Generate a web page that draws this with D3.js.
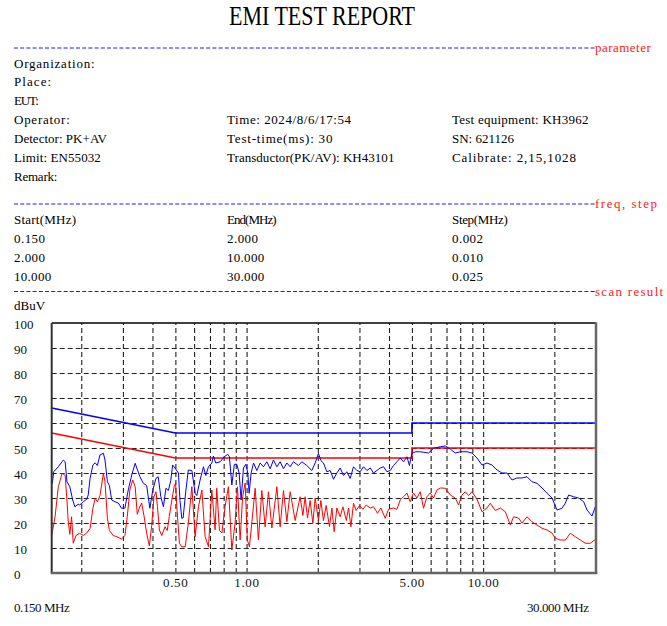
<!DOCTYPE html>
<html>
<head>
<meta charset="utf-8">
<script src="https://cdn.jsdelivr.net/npm/d3@7"></script>
<style>
  body { margin: 0; background: #fff; }
  svg { display: block; }
</style>
</head>
<body>
<script>
const title = "EMI TEST REPORT";

const paramRows = [
  ["Organization:", "", ""],
  ["Place:", "", ""],
  ["EUT:", "", ""],
  ["Operator:", "Time: 2024/8/6/17:54", "Test equipment: KH3962"],
  ["Detector: PK+AV", "Test-time(ms): 30", "SN: 621126"],
  ["Limit: EN55032", "Transductor(PK/AV): KH43101", "Calibrate: 2,15,1028"],
  ["Remark:", "", ""]
];

const freqHeader = ["Start(MHz)", "End(MHz)", "Step(MHz)"];
const freqStart = ["0.150", "2.000", "10.000"];
const freqEnd = ["2.000", "10.000", "30.000"];
const freqStep = ["0.002", "0.010", "0.025"];

const sectionLabels = ["parameter", "freq, step", "scan result"];

// limites EN55032 (QP bleu / AV rouge)
const limitFreq = [0.15, 0.5, 5, 5, 30];
const limitPK = [66, 56, 56, 60, 60];
const limitAV = [56, 46, 46, 50, 50];

const yTicks = [0, 10, 20, 30, 40, 50, 60, 70, 80, 90, 100];
const xGrid = [0.2, 0.3, 0.4, 0.5, 0.6, 0.7, 0.8, 0.9, 1, 2, 3, 4, 5, 6, 7, 8, 9, 10, 20];
const xLabels = [0.5, 1, 5, 10];
const xLabelText = ["0.50", "1.00", "5.00", "10.00"];

// trace crête (PK)
const peakFreq = [
  0.150,0.151,0.153,0.160,0.168,0.171,0.174,0.179,0.184,0.188,
  0.194,0.197,0.204,0.211,0.214,0.218,0.224,0.229,0.234,0.240,
  0.248,0.252,0.258,0.263,0.269,0.278,0.287,0.296,0.306,0.316,
  0.327,0.338,0.345,0.354,0.366,0.378,0.390,0.401,0.414,0.423,
  0.434,0.445,0.456,0.467,0.478,0.487,0.498,0.515,0.523,0.532,
  0.539,0.553,0.567,0.587,0.606,0.616,0.636,0.657,0.672,0.690,
  0.713,0.724,0.741,0.773,0.806,0.833,0.846,0.866,0.888,0.909,
  0.930,0.948,0.970,0.992,1.012,1.025,1.045,1.070,1.105,1.141,
  1.178,1.218,1.258,1.299,1.343,1.386,1.432,1.480,1.528,1.578,
  1.656,1.712,1.797,1.887,1.949,2.013,2.060,2.113,2.185,2.256,
  2.330,2.408,2.487,2.569,2.655,2.742,2.831,2.926,3.022,3.121,
  3.226,3.332,3.440,3.556,3.672,3.792,3.919,4.047,4.179,4.320,
  4.461,4.608,4.763,4.880,5.000,5.190,5.421,5.880,6.171,6.586,
  6.917,7.262,7.623,8.004,8.544,8.970,9.419,9.889,10.38,10.90,
  11.45,12.02,12.61,13.25,13.90,14.60,15.33,16.09,16.89,17.74,
  18.63,19.55,20.53,21.55,22.26,22.98,24.13,25.34,26.61,27.49,
  28.86,29.80,30.00
];
const peakLevel = [
  35.5,36,40.5,42.5,45.2,44.5,36.5,34.5,29.2,26.5,
  27.5,27.2,28.5,29.5,31.2,37.9,43.2,44.1,43,47.2,
  47.9,45.2,36.5,35,29.2,28.5,28,25.9,26,33.2,
  39.2,43.9,41.5,38.5,35.9,35,25.9,33,37.9,38.5,
  30.5,26.5,33.9,33,37,43.2,42,40,29,21.9,
  22,32.5,41.2,41,31.9,31,37.2,42.5,39,42.5,
  44,46.8,44,44.5,46.5,47.5,46.5,35.2,43.5,43.5,
  40,29.2,42,43.5,40,31.9,40,44,41,44,
  42.5,44.5,41.7,45.2,42.5,44.5,41.7,44,42.5,44.5,
  43,44.5,43,41,44,47.9,45,44,40.5,41,
  37.5,40,42,39,40.5,37.8,42.5,41,40.5,42.5,
  41,42,40,41,42,42.5,40.5,41,43,44.5,
  46,44.5,46.5,43,47.9,48.5,48.5,48,49.9,50.5,
  50.8,49.6,48,48.5,48.5,48,46,43.2,44,43.2,
  41.2,40,40,37.2,38,38,38.5,36.5,35.9,34,
  31.9,30,25.2,25.9,28,31.2,30.5,30,28.5,25.2,
  22.8,26.5,27
];

// trace moyenne (AV)
const avgFreq = [
  0.150,0.151,0.155,0.160,0.166,0.171,0.174,0.176,0.179,0.182,
  0.185,0.190,0.197,0.204,0.211,0.218,0.224,0.229,0.234,0.240,
  0.248,0.252,0.258,0.263,0.273,0.283,0.296,0.306,0.313,0.321,
  0.330,0.338,0.345,0.352,0.360,0.369,0.378,0.388,0.397,0.406,
  0.414,0.420,0.428,0.438,0.452,0.462,0.471,0.483,0.494,0.501,
  0.507,0.520,0.532,0.550,0.567,0.587,0.606,0.626,0.647,0.668,
  0.690,0.713,0.736,0.748,0.768,0.786,0.811,0.838,0.866,0.894,
  0.915,0.939,0.962,0.986,1.007,1.028,1.052,1.087,1.122,1.160,
  1.198,1.237,1.279,1.343,1.386,1.432,1.480,1.528,1.605,1.684,
  1.730,1.768,1.809,1.856,1.906,1.949,2.013,2.060,2.113,2.170,
  2.241,2.294,2.346,2.408,2.487,2.554,2.640,2.697,2.761,2.831,
  2.906,3.002,3.103,3.204,3.332,3.440,3.577,3.696,3.855,3.981,
  4.179,4.320,4.461,4.608,4.763,4.918,5.079,5.249,5.421,5.598,
  5.787,5.976,6.171,6.378,6.586,6.917,7.262,7.623,7.872,8.139,
  8.403,8.680,8.970,9.419,9.889,10.38,10.72,11.26,11.82,12.41,
  13.03,13.45,14.12,14.60,15.33,16.09,16.89,17.74,18.63,19.55,
  20.19,21.20,22.26,23.36,24.54,25.76,27.05,28.39,29.80,30.00
];
const avgLevel = [
  15,16.5,22.5,34.5,39.9,39,29.2,21.2,15.5,22.5,
  11.9,15,15.9,15,16,17.9,25.9,29.9,28.5,31,
  39.9,36.5,21.9,17,15,14.5,13.6,15,22.5,33.2,
  37.2,34.5,23.5,26,28,22.5,15.9,10.8,19,30.5,
  32.5,26.5,17.2,15,18.5,17,22.5,29.2,34.5,36,
  26.5,11.9,10.5,10.5,19.9,34.5,14.5,26.5,33.2,14.5,
  10.5,33.2,17.3,33.9,17,16,26.5,34.5,9.2,20,
  34.5,13.2,30.5,36,13.2,10.5,20,33.9,13.2,33,
  18.5,32.5,18,34.5,18.5,33,20.5,32.5,21,30.5,
  23,30.5,22,29,19.9,30,21,29,21,27,
  18.5,26,16.5,26,22.5,26.5,21,26,18.5,27.9,
  25,27,25.5,27.2,26,26.5,23.9,26,21.9,25.5,
  26,25.5,29.2,30.5,32,28.5,32,30,32.5,25.9,
  30.5,32,30,33.2,34,33.9,31.2,30,27.2,31.2,
  32.5,31,32.5,29.5,24.5,26,27.9,25,26,24.5,
  19.2,22.5,22,20,22.5,20.5,19.2,17.9,17.2,16,
  13.9,13.2,13.2,15.9,14.5,13.2,11.9,11.9,13.4,13
];

// ---- mise en page ----
const W = 667, H = 626;
const charW = 6.2;           // largeur d'un caractère "demi-chasse"
const col = [14, 227, 452];
const rowY = [63, 81.8, 100.6, 119.2, 138.2, 157.2, 176.2];
const freqRowY = [219, 238, 257, 276];
const sepY = [48, 204, 291.5];

const svg = d3.select("body").append("svg")
  .attr("width", W)
  .attr("height", H)
  .style("font-family", "'Liberation Serif', 'DejaVu Serif', serif");

function monoText(x, yy, str, color, anchor) {
  if (!str) return;
  svg.append("text")
    .attr("x", x)
    .attr("y", yy)
    .attr("dominant-baseline", "central")
    .attr("font-size", 13)
    .attr("text-anchor", anchor || "start")
    .attr("textLength", str.length * charW)
    .attr("lengthAdjust", "spacing")
    .attr("fill", color || "#000")
    .text(str);
}

// titre
svg.append("text")
  .attr("x", 322)
  .attr("y", 15)
  .attr("dominant-baseline", "central")
  .attr("text-anchor", "middle")
  .attr("font-size", 28)
  .attr("textLength", 186)
  .attr("lengthAdjust", "spacingAndGlyphs")
  .text(title);

// séparateurs pointillés + étiquettes rouges
sepY.forEach((sy, i) => {
  svg.append("line")
    .attr("x1", 14).attr("x2", 595)
    .attr("y1", sy).attr("y2", sy)
    .attr("stroke", "#1a1aff")
    .attr("stroke-width", 1)
    .attr("stroke-dasharray", "4,2.2");
  monoText(595, sy - 0.5, sectionLabels[i], "#ff2020");
});

// bloc paramètres
paramRows.forEach((r, i) => {
  r.forEach((s, j) => monoText(col[j], rowY[i], s));
});

// bloc fréquences
freqHeader.forEach((s, j) => monoText(col[j], freqRowY[0], s));
freqStart.forEach((s, i) => monoText(col[0], freqRowY[i + 1], s));
freqEnd.forEach((s, i) => monoText(col[1], freqRowY[i + 1], s));
freqStep.forEach((s, i) => monoText(col[2], freqRowY[i + 1], s));

// ---- graphique ----
const plot = { left: 51.7, right: 596, top: 323, bottom: 573 };
const x = d3.scaleLog().domain([0.15, 30]).range([plot.left, plot.right]);
const y = d3.scaleLinear().domain([0, 100]).range([plot.bottom, plot.top]);

svg.append("text")
  .attr("x", 14).attr("y", 305)
  .attr("dominant-baseline", "central")
  .attr("font-size", 13)
  .text("dBuV");

// grille horizontale
const gridY = svg.append("g")
  .attr("transform", `translate(${plot.left},0)`)
  .call(d3.axisLeft(y)
    .tickValues(yTicks.filter(v => v > 0 && v < 100))
    .tickSize(-(plot.right - plot.left))
    .tickFormat(""));
gridY.select(".domain").remove();
gridY.selectAll("line")
  .attr("stroke", "#222")
  .attr("stroke-width", 1.1)
  .attr("stroke-dasharray", "5,3");

// grille verticale
const gridX = svg.append("g")
  .attr("transform", `translate(0,${plot.bottom})`)
  .call(d3.axisBottom(x)
    .tickValues(xGrid)
    .tickSize(-(plot.bottom - plot.top))
    .tickFormat(""));
gridX.select(".domain").remove();
gridX.selectAll("line")
  .attr("stroke", "#222")
  .attr("stroke-width", 1.1)
  .attr("stroke-dasharray", "5,3");

// graduations Y
svg.selectAll(".ylab")
  .data(yTicks)
  .enter()
  .append("text")
  .attr("class", "ylab")
  .attr("x", 14)
  .attr("y", d => y(d) + 1.5)
  .attr("dominant-baseline", "central")
  .attr("font-size", 13)
  .attr("fill", "#111")
  .text(d => d);

// graduations X
xLabels.forEach((f, i) => monoText(x(f), 582, xLabelText[i], "#111", "middle"));
monoText(14, 607, "0.150 MHz", "#111");
monoText(589, 607, "30.000 MHz", "#111", "end");

// courbes
const line = d3.line().x(d => x(d[0])).y(d => y(d[1]));
const zip = (a, b) => a.map((v, i) => [v, b[i]]);

svg.append("path")
  .datum(zip(limitFreq, limitPK))
  .attr("d", line)
  .attr("fill", "none")
  .attr("stroke", "#0000ff")
  .attr("stroke-width", 1.6);

svg.append("path")
  .datum(zip(limitFreq, limitAV))
  .attr("d", line)
  .attr("fill", "none")
  .attr("stroke", "#ff0000")
  .attr("stroke-width", 1.6);

svg.append("path")
  .datum(zip(avgFreq, avgLevel))
  .attr("d", line)
  .attr("fill", "none")
  .attr("stroke", "#ff0000")
  .attr("stroke-width", 1);

svg.append("path")
  .datum(zip(peakFreq, peakLevel))
  .attr("d", line)
  .attr("fill", "none")
  .attr("stroke", "#0000ff")
  .attr("stroke-width", 1);

// cadre
svg.append("line")
  .attr("x1", plot.left).attr("x2", plot.right)
  .attr("y1", plot.top).attr("y2", plot.top)
  .attr("stroke", "#000").attr("stroke-width", 1.5);
svg.append("line")
  .attr("x1", plot.left).attr("x2", plot.left)
  .attr("y1", plot.top).attr("y2", plot.bottom)
  .attr("stroke", "#333").attr("stroke-width", 2);
svg.append("line")
  .attr("x1", plot.right).attr("x2", plot.right)
  .attr("y1", plot.top - 0.75).attr("y2", plot.bottom + 1)
  .attr("stroke", "#666").attr("stroke-width", 2.5);
svg.append("line")
  .attr("x1", plot.left - 1).attr("x2", plot.right + 1.25)
  .attr("y1", plot.bottom).attr("y2", plot.bottom)
  .attr("stroke", "#666").attr("stroke-width", 2.5);
</script>
</body>
</html>
